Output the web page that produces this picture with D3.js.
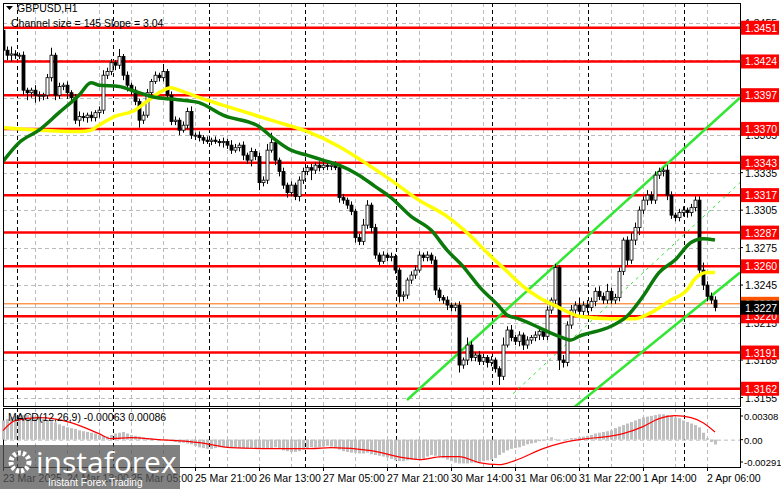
<!DOCTYPE html>
<html><head><meta charset="utf-8">
<script src="https://cdn.jsdelivr.net/npm/d3@7"></script>
<style>body{margin:0;background:#fff}svg{display:block;font-family:"Liberation Sans",Arial,sans-serif}</style>
</head><body><div id="chart"></div>
<script>
// ---------------- data ----------------
const firstOpen = 1.3449;
const closes = [
 1.3433,1.3429,1.3430,1.3429,1.3429,1.3401,1.3399,1.3401,1.3397,1.3397,
 1.3397,1.3411,1.3429,1.3397,1.3404,1.3405,1.3399,1.3395,1.3377,1.3380,
 1.3379,1.3381,1.3379,1.3383,1.3385,1.3413,1.3416,1.3423,1.3421,1.3428,
 1.3413,1.3405,1.3401,1.3392,1.3377,1.3381,1.3399,1.3408,1.3413,1.3411,
 1.3416,1.3397,1.3376,1.3377,1.3369,1.3373,1.3384,1.3365,1.3365,1.3363,
 1.3361,1.3360,1.3361,1.3360,1.3359,1.3360,1.3357,1.3353,1.3355,1.3357,
 1.3349,1.3345,1.3352,1.3348,1.3327,1.3329,1.3353,1.3359,1.3345,1.3336,
 1.3325,1.3319,1.3325,1.3316,1.3329,1.3336,1.3339,1.3337,1.3341,1.3339,
 1.3341,1.3340,1.3341,1.3339,1.3315,1.3313,1.3309,1.3304,1.3283,1.3280,
 1.3293,1.3309,1.3291,1.3269,1.3264,1.3269,1.3267,1.3268,1.3257,1.3236,
 1.3237,1.3249,1.3253,1.3257,1.3269,1.3267,1.3269,1.3265,1.3241,1.3235,
 1.3233,1.3229,1.3227,1.3229,1.3181,1.3185,1.3197,1.3187,1.3189,1.3184,
 1.3187,1.3183,1.3185,1.3178,1.3172,1.3197,1.3209,1.3203,1.3200,1.3205,
 1.3197,1.3201,1.3203,1.3205,1.3208,1.3204,1.3225,1.3233,1.3259,1.3185,
 1.3183,1.3213,1.3225,1.3229,1.3224,1.3229,1.3227,1.3232,1.3240,1.3236,
 1.3233,1.3240,1.3233,1.3235,1.3256,1.3281,1.3265,1.3281,1.3291,1.3305,
 1.3313,1.3317,1.3313,1.3333,1.3336,1.3337,1.3317,1.3301,1.3299,1.3303,
 1.3305,1.3303,1.3307,1.3313,1.3257,1.3245,1.3236,1.3233,1.3227
];
// wick lengths in pips above / below the body
const wickHi = [
 2,3,6,3,2,3,2,2,4,3, 2,3,6,2,3,2,3,2,3,4, 3,2,3,2,3,4,3,3,2,6,
 2,3,2,3,2,3,3,2,3,2, 6,2,3,3,2,3,3,4,2,3, 2,3,2,3,2,3,2,4,3,2,
 3,2,3,2,3,3,5,8,3,2, 3,2,3,2,3,3,2,3,2,3, 3,2,2,3,2,3,2,3,2,3,
 5,4,2,3,2,3,2,3,2,2, 3,2,3,4,3,2,3,2,3,2, 2,3,2,2,3,2,6,3,2,3,
 3,2,3,2,2,6,3,4,2,3, 2,3,2,3,3,2,3,2,3,2, 4,3,4,3,6,3,4,3,3,4,
 3,6,3,3,3,2,3,6,4,3, 3,4,3,3,3,2,4,3,2,3, 3,2,3,3,3,6,3,3,3
];
const wickLo = [
 3,4,5,3,3,4,6,4,6,5, 4,3,3,4,3,3,5,4,3,5, 3,4,3,3,4,3,3,3,4,3,
 4,5,4,3,6,3,2,3,2,3, 3,4,3,3,4,2,3,3,4,3, 3,2,3,2,3,4,3,3,2,3,
 4,3,5,3,6,3,3,2,4,4, 3,4,3,3,4,3,3,8,3,3, 2,3,3,2,4,3,3,3,4,3,
 3,3,4,3,3,2,3,3,3,5, 4,3,3,3,2,3,3,3,4,3, 3,4,3,3,6,3,4,3,3,3,
 3,4,3,3,7,3,2,3,3,4, 4,3,3,3,4,3,3,3,3,8, 4,3,3,3,3,3,4,3,4,3,
 3,3,3,3,3,3,4,3,4,6, 3,4,3,3,3,4,4,3,3,3, 3,4,3,3,3,4,4,3,3
];
// moving averages, read as [bar, price]
const maGreen = [[0,1.3344],[4,1.3359],[9,1.3369],[14,1.3383],[19,1.3397],[22,1.3407],[24,1.3405],[29,1.3404],
 [33,1.3400],[37,1.3396],[45,1.3393],[49,1.3391],[55,1.3381],[64,1.3372],[67,1.3364],[72,1.3353],[76,1.3349],
 [80,1.3345],[84,1.3341],[89,1.3333],[93,1.3324],[97,1.3315],[102,1.3300],[107,1.3289],[111,1.3273],[115,1.3260],
 [119,1.3244],[124,1.3228],[126,1.3221],[129,1.3218],[134,1.3211],[139,1.3204],[142,1.3201],[144,1.3204],
 [152,1.3212],[156,1.3220],[160,1.3236],[164,1.3255],[168,1.3265],[172,1.3279],[175,1.3282],[178,1.3281]];
const maYellow = [[0,1.3371],[9,1.3369],[19,1.3368],[22,1.3369],[24,1.3373],[28,1.3380],[33,1.3385],[36,1.3392],
 [39,1.3399],[42,1.3403],[44,1.3401],[51,1.3393],[59,1.3385],[67,1.3377],[76,1.3368],[84,1.3356],[90,1.3344],
 [97,1.3329],[104,1.3313],[111,1.3300],[117,1.3284],[121,1.3271],[126,1.3256],[130,1.3244],[134,1.3235],
 [139,1.3227],[144,1.3220],[152,1.3218],[158,1.3218],[162,1.3223],[167,1.3233],[171,1.3241],[173,1.3250],
 [176,1.3255],[178,1.3255]];
// regression channel, two points each
const chUpper  = [[101,1.3153],[184.25,1.3395]];
const chMiddle = [[127.5,1.3158],[184.25,1.3327]];
const chLower  = [[140,1.3140],[184.25,1.3255]];
const levels = [1.3451,1.3424,1.3397,1.3370,1.3343,1.3317,1.3287,1.3260,1.3220,1.3191,1.3162];
const priceTicks = [1.3455,1.3425,1.3395,1.3365,1.3335,1.3305,1.3275,1.3245,1.3215,1.3185,1.3155];
const timeTicks = [0,16,32,48,64,80,96,112,128,144,160,176];
const timeLabels = ["23 Mar 2025","24 Mar 13:00","25 Mar 05:00","25 Mar 21:00","26 Mar 13:00","27 Mar 05:00",
 "27 Mar 21:00","30 Mar 14:00","31 Mar 06:00","31 Mar 22:00","1 Apr 14:00","2 Apr 06:00"];
const daySeps = [3.5,27.5,51.5,75.5,98.25,122.25,146.25,170.25];
// MACD histogram, 1e-5 units
const macdHist = [
 250,270,290,310,320, 320,320,315,300,290, 270,250,240,220,200, 180,160,150,140,120,
 110,100,90,80,60, 50,40,60,80,90, 100,80,60,50,40, 30,20,20,10,0,
 0,-10,-20,-30,-40, -40,-50,-60,-80,-100, -110,-120,-120,-110,-100, -100,-100,-100,-100,-110,
 -110,-110,-110,-110,-120, -120,-120,-120,-100,-110, -140,-150,-160,-160,-150, -130,-110,-100,-100,-100,
 -90,-80,-90,-110,-130, -150,-160,-170,-170,-180, -180,-170,-190,-200,-210, -220,-230,-250,-270,-280,
 -280,-270,-260,-260,-250, -240,-220,-200,-210,-230, -240,-260,-280,-300,-310, -310,-310,-300,-300,-290,
 -280,-270,-260,-240,-200, -170,-140,-120,-110,-100, -80,-60,-50,-40,-20, -10,10,30,10,-10,
 0,10,20,20,30, 40,50,60,80,90, 100,110,120,150,170, 190,210,230,250,270,
 290,300,310,320,330, 330,320,310,290,280, 250,230,210,190,160, 90,20,-30,-63
];
const macdSignal = [[0,117],[3,247],[9,286],[17,221],[24,78],[27,13],[32,26],[39,0],[49,-39],[57,-104],[67,-117],
 [77,-117],[82,-104],[92,-143],[100,-234],[104,-260],[110,-221],[114,-221],[119,-299],[124,-325],[128,-273],
 [135,-117],[140,-39],[146,13],[151,39],[155,78],[160,169],[164,273],[168,312],[172,286],[175,221],[178,100]];
const macdTicks = [0.00308, 0, -0.00291];
const macdTickLabels = ["0.00308","0.00","-0.00291"];

// ---------------- layout ----------------
const W = 781, H = 489;
const L = 3, R = 740, T = 3, B = 406, MT = 408, MB = 467;
const FS = 10.5;
const svg = d3.select("#chart").append("svg").attr("width", W).attr("height", H);

const x = d3.scaleLinear().domain([0, 1]).range([3, 7]);
const y = d3.scaleLinear().domain([1.3149, 1.3470]).range([B - 1, T + 1]);
const ym = d3.scaleLinear().domain([-0.00291, 0.00308]).range([462, 416]);

const main = svg.append("g");
svg.append("clipPath").attr("id","mc").append("rect").attr("x",L).attr("y",T).attr("width",R-L).attr("height",B-T);

// grid
const gGrid = main.append("g").attr("stroke","#bbb").attr("stroke-dasharray","4,3").attr("stroke-width",1);
priceTicks.forEach(p => gGrid.append("line").attr("x1",L).attr("x2",R).attr("y1",Math.round(y(p))+0.5).attr("y2",Math.round(y(p))+0.5));
d3.range(8, 180, 8).forEach(i => {
  gGrid.append("line").attr("x1",x(i)+0.5).attr("x2",x(i)+0.5).attr("y1",T).attr("y2",B);
  gGrid.append("line").attr("x1",x(i)+0.5).attr("x2",x(i)+0.5).attr("y1",MT).attr("y2",MB);
});
gGrid.append("line").attr("x1",L).attr("x2",R).attr("y1",ym(0)+0.5).attr("y2",ym(0)+0.5);
const gSep = main.append("g").attr("stroke","#000").attr("stroke-dasharray","4,3");
daySeps.forEach(i => {
  gSep.append("line").attr("x1",x(i)+0.5).attr("x2",x(i)+0.5).attr("y1",T).attr("y2",B);
  gSep.append("line").attr("x1",x(i)+0.5).attr("x2",x(i)+0.5).attr("y1",MT).attr("y2",MB);
});

// levels
const gLev = main.append("g");
levels.forEach(p => gLev.append("line").attr("x1",L).attr("x2",R).attr("y1",y(p)).attr("y2",y(p))
  .attr("stroke","#ff0000").attr("stroke-width",2.5));
gLev.append("line").attr("x1",L).attr("x2",R).attr("y1",y(1.3230)).attr("y2",y(1.3230)).attr("stroke","#ff6600").attr("stroke-width",1);
gLev.append("line").attr("x1",L).attr("x2",R).attr("y1",y(1.3227)).attr("y2",y(1.3227)).attr("stroke","#c0c0c0").attr("stroke-width",1);

const plot = main.append("g").attr("clip-path","url(#mc)");

// channel
const ln = d3.line().x(d => x(d[0])).y(d => y(d[1]));
plot.append("path").attr("d", ln(chUpper)).attr("stroke","#33e633").attr("stroke-width",2.5).attr("fill","none");
plot.append("path").attr("d", ln(chLower)).attr("stroke","#33e633").attr("stroke-width",2.5).attr("fill","none");
plot.append("path").attr("d", ln(chMiddle)).attr("stroke","#33e633").attr("stroke-width",1).attr("stroke-dasharray","3,4").attr("fill","none");

// candles
const bars = closes.map((c, i) => {
  const o = i === 0 ? firstOpen : closes[i - 1];
  return { i, o, c, h: Math.max(o, c) + wickHi[i] * 1e-4, l: Math.min(o, c) - wickLo[i] * 1e-4 };
});
const gC = plot.append("g");
gC.selectAll("line").data(bars).join("line")
  .attr("x1", d => x(d.i) + 0.5).attr("x2", d => x(d.i) + 0.5)
  .attr("y1", d => y(d.h)).attr("y2", d => y(d.l)).attr("stroke","#000");
gC.selectAll("rect").data(bars).join("rect")
  .attr("x", d => x(d.i) - 1).attr("width", 3)
  .attr("y", d => y(Math.max(d.o, d.c)))
  .attr("height", d => Math.max(1, Math.abs(y(d.o) - y(d.c))))
  .attr("fill", d => d.c >= d.o ? "#fff" : "#000").attr("stroke","#000").attr("stroke-width",0.8);

// moving averages
const cl = d3.line().x(d => x(d[0])).y(d => y(d[1])).curve(d3.curveMonotoneX);
plot.append("path").attr("d", cl(maYellow)).attr("stroke","#ffff00").attr("stroke-width",3.5).attr("fill","none");
plot.append("path").attr("d", cl(maGreen)).attr("stroke","#0b7a0b").attr("stroke-width",3.5).attr("fill","none");

// frame
main.append("rect").attr("x",L+0.5).attr("y",T+0.5).attr("width",R-L).attr("height",B-T).attr("fill","none").attr("stroke","#000");
main.append("rect").attr("x",L+0.5).attr("y",MT+0.5).attr("width",R-L).attr("height",MB-MT).attr("fill","none").attr("stroke","#000");

// right axis
const ax = svg.append("g").attr("font-size",FS);
priceTicks.forEach(p => {
  ax.append("line").attr("x1",R).attr("x2",R+3).attr("y1",y(p)).attr("y2",y(p)).attr("stroke","#000");
  ax.append("text").attr("x",R+5).attr("y",y(p)+4).text(p.toFixed(4));
});
const tag = (p, fill, label) => {
  ax.append("rect").attr("x",R+1).attr("y",y(p)-7).attr("width",38).attr("height",14).attr("fill",fill);
  ax.append("text").attr("x",R+5).attr("y",y(p)+4).attr("fill","#fff").text(label);
};
levels.forEach(p => tag(p, "#ff0000", p.toFixed(4)));
tag(1.3230, "#ff5500", "1.3230");
tag(1.3227, "#000", "1.3227");

// macd
const gM = svg.append("g");
gM.selectAll("rect").data(macdHist).join("rect")
  .attr("x", (d, i) => x(i) - 1).attr("width", 3)
  .attr("y", d => ym(Math.max(0, d * 1e-5))).attr("height", d => Math.abs(ym(d * 1e-5) - ym(0)))
  .attr("fill","#c0c0c0");
gM.append("path").attr("d", d3.line().x(d => x(d[0])).y(d => ym(d[1] * 1e-5)).curve(d3.curveMonotoneX)(macdSignal))
  .attr("stroke","#ff0000").attr("stroke-width",1.2).attr("fill","none");
macdTicks.forEach((v, k) => {
  ax.append("line").attr("x1",R).attr("x2",R+3).attr("y1",ym(v)).attr("y2",ym(v)).attr("stroke","#000");
  ax.append("text").attr("x",R+4).attr("y",ym(v)+4).attr("font-size",9.5).text(macdTickLabels[k]);
});

// time axis
const tx = svg.append("g").attr("font-size",FS);
timeTicks.forEach((t, k) => {
  tx.append("line").attr("x1",x(t)+0.5).attr("x2",x(t)+0.5).attr("y1",MB).attr("y2",MB+4).attr("stroke","#000");
  tx.append("text").attr("x",x(t)).attr("y",MB+15).text(timeLabels[k]);
});

// titles
svg.append("path").attr("d","M6,6 L13,6 L9.5,10 Z").attr("fill","#000");
svg.append("text").attr("x",17).attr("y",12).attr("font-size",FS).text("GBPUSD,H1");
svg.append("text").attr("x",11).attr("y",27).attr("font-size",FS).text("Channel size = 145 Slope = 3.04");
svg.append("text").attr("x",8).attr("y",421).attr("font-size",FS).text("MACD(12,26,9) -0.00063 0.00086");

// watermark
const wm = svg.append("g");
wm.append("rect").attr("x",0).attr("y",445).attr("width",180).attr("height",44).attr("fill","#555").attr("opacity",0.75);
wm.append("circle").attr("cx",20).attr("cy",462).attr("r",9).attr("fill","none").attr("stroke","#fff").attr("stroke-width",5).attr("stroke-dasharray","3,2");
wm.append("text").attr("x",36).attr("y",473).attr("font-size",30).attr("fill","#fff").attr("font-family","Open Sans, sans-serif").text("instaforex");
wm.append("text").attr("x",48).attr("y",486).attr("font-size",10).attr("fill","#fff").text("Instant Forex Trading");
</script></body></html>
